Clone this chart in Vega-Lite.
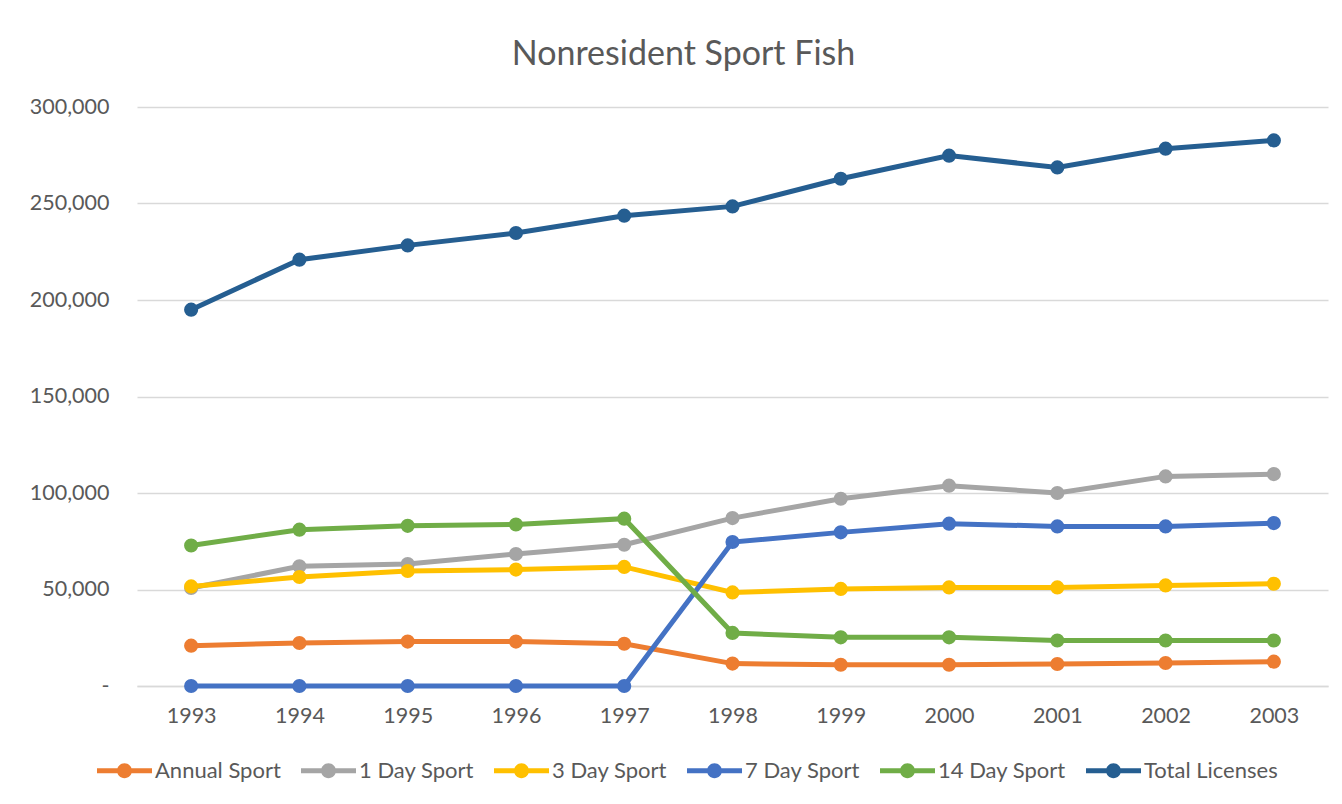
{
  "$schema": "https://vega.github.io/schema/vega-lite/v6.json",
  "autosize": "none",
  "width": 1191,
  "height": 579,
  "padding": {"left": 137, "top": 107, "right": 14, "bottom": 118},
  "background": "white",
  "title": {
    "text": "Nonresident Sport Fish",
    "font": "Lato",
    "fontSize": 34,
    "fontWeight": "normal",
    "color": "#595959",
    "anchor": "middle",
    "frame": "group",
    "dx": -49,
    "baseline": "bottom",
    "offset": -10
  },
  "config": {
    "view": {"stroke": null},
    "font": "Lato",
    "axis": {
      "labelFont": "Lato",
      "labelFontSize": 21.5,
      "labelColor": "#595959",
      "gridColor": "#d9d9d9",
      "gridWidth": 1.3,
      "domainColor": "#d9d9d9",
      "domainWidth": 1.3,
      "ticks": false,
      "tickSize": 0,
      "title": null
    },
    "legend": {
      "labelFont": "Lato",
      "labelFontSize": 22,
      "labelColor": "#595959",
      "padding": 0
    }
  },
  "data": {
    "values": [
      {"year": "1993", "series": "Annual Sport", "value": 20900},
      {"year": "1994", "series": "Annual Sport", "value": 22300},
      {"year": "1995", "series": "Annual Sport", "value": 23000},
      {"year": "1996", "series": "Annual Sport", "value": 23000},
      {"year": "1997", "series": "Annual Sport", "value": 21900},
      {"year": "1998", "series": "Annual Sport", "value": 11600},
      {"year": "1999", "series": "Annual Sport", "value": 11000},
      {"year": "2000", "series": "Annual Sport", "value": 11000},
      {"year": "2001", "series": "Annual Sport", "value": 11400},
      {"year": "2002", "series": "Annual Sport", "value": 11900},
      {"year": "2003", "series": "Annual Sport", "value": 12600},
      {"year": "1993", "series": "1 Day Sport", "value": 50800},
      {"year": "1994", "series": "1 Day Sport", "value": 62000},
      {"year": "1995", "series": "1 Day Sport", "value": 63200},
      {"year": "1996", "series": "1 Day Sport", "value": 68400},
      {"year": "1997", "series": "1 Day Sport", "value": 73200},
      {"year": "1998", "series": "1 Day Sport", "value": 87000},
      {"year": "1999", "series": "1 Day Sport", "value": 97000},
      {"year": "2000", "series": "1 Day Sport", "value": 103800},
      {"year": "2001", "series": "1 Day Sport", "value": 100000},
      {"year": "2002", "series": "1 Day Sport", "value": 108600},
      {"year": "2003", "series": "1 Day Sport", "value": 109800},
      {"year": "1993", "series": "3 Day Sport", "value": 51600},
      {"year": "1994", "series": "3 Day Sport", "value": 56500},
      {"year": "1995", "series": "3 Day Sport", "value": 59600},
      {"year": "1996", "series": "3 Day Sport", "value": 60300},
      {"year": "1997", "series": "3 Day Sport", "value": 61700},
      {"year": "1998", "series": "3 Day Sport", "value": 48500},
      {"year": "1999", "series": "3 Day Sport", "value": 50300},
      {"year": "2000", "series": "3 Day Sport", "value": 51100},
      {"year": "2001", "series": "3 Day Sport", "value": 51100},
      {"year": "2002", "series": "3 Day Sport", "value": 52100},
      {"year": "2003", "series": "3 Day Sport", "value": 53000},
      {"year": "1993", "series": "7 Day Sport", "value": 0},
      {"year": "1994", "series": "7 Day Sport", "value": 0},
      {"year": "1995", "series": "7 Day Sport", "value": 0},
      {"year": "1996", "series": "7 Day Sport", "value": 0},
      {"year": "1997", "series": "7 Day Sport", "value": 0},
      {"year": "1998", "series": "7 Day Sport", "value": 74600},
      {"year": "1999", "series": "7 Day Sport", "value": 79600},
      {"year": "2000", "series": "7 Day Sport", "value": 84100},
      {"year": "2001", "series": "7 Day Sport", "value": 82700},
      {"year": "2002", "series": "7 Day Sport", "value": 82700},
      {"year": "2003", "series": "7 Day Sport", "value": 84400},
      {"year": "1993", "series": "14 Day Sport", "value": 72800},
      {"year": "1994", "series": "14 Day Sport", "value": 81000},
      {"year": "1995", "series": "14 Day Sport", "value": 83000},
      {"year": "1996", "series": "14 Day Sport", "value": 83700},
      {"year": "1997", "series": "14 Day Sport", "value": 86700},
      {"year": "1998", "series": "14 Day Sport", "value": 27500},
      {"year": "1999", "series": "14 Day Sport", "value": 25200},
      {"year": "2000", "series": "14 Day Sport", "value": 25200},
      {"year": "2001", "series": "14 Day Sport", "value": 23600},
      {"year": "2002", "series": "14 Day Sport", "value": 23600},
      {"year": "2003", "series": "14 Day Sport", "value": 23600},
      {"year": "1993", "series": "Total Licenses", "value": 195000},
      {"year": "1994", "series": "Total Licenses", "value": 220900},
      {"year": "1995", "series": "Total Licenses", "value": 228300},
      {"year": "1996", "series": "Total Licenses", "value": 234700},
      {"year": "1997", "series": "Total Licenses", "value": 243700},
      {"year": "1998", "series": "Total Licenses", "value": 248500},
      {"year": "1999", "series": "Total Licenses", "value": 262800},
      {"year": "2000", "series": "Total Licenses", "value": 274800},
      {"year": "2001", "series": "Total Licenses", "value": 268700},
      {"year": "2002", "series": "Total Licenses", "value": 278400},
      {"year": "2003", "series": "Total Licenses", "value": 282700}
    ]
  },
  "encoding": {
    "x": {
      "field": "year",
      "type": "ordinal",
      "scale": {"type": "point", "padding": 0.5},
      "axis": {"labelAngle": 0, "grid": false, "domain": true, "labelPadding": 19}
    },
    "y": {
      "field": "value",
      "type": "quantitative",
      "scale": {"domain": [0, 300000], "nice": false},
      "axis": {
        "values": [0, 50000, 100000, 150000, 200000, 250000, 300000],
        "domain": false,
        "labelPadding": 28,
        "labelExpr": "datum.value === 0 ? '-\u00a0\u00a0' : format(datum.value, ',')"
      }
    },
    "color": {
      "field": "series",
      "type": "nominal",
      "scale": {
        "domain": ["Annual Sport", "1 Day Sport", "3 Day Sport", "7 Day Sport", "14 Day Sport", "Total Licenses"],
        "range": ["#ED7D31", "#A5A5A5", "#FFC000", "#4472C4", "#70AD47", "#255E91"]
      },
      "legend": {
        "title": null,
        "orient": "none",
        "direction": "horizontal",
        "legendX": -40,
        "legendY": 636,
        "symbolType": "M-1,-0.09H1V0.09H-1Z M-0.27,0A0.27,0.27,0,1,1,0.27,0A0.27,0.27,0,1,1,-0.27,0Z",
        "symbolSize": 3025,
        "symbolStrokeWidth": 0,
        "labelOffset": 3,
        "columnPadding": 20,
        "encode": {
          "symbols": {"update": {"fill": {"scale": "color", "field": "value"}, "fillOpacity": {"value": 1}, "strokeWidth": {"value": 0}}}
        }
      }
    }
  },
  "layer": [
    {"mark": {"type": "line", "strokeWidth": 5}},
    {"mark": {"type": "point", "filled": true, "opacity": 1, "size": 200}}
  ]
}
